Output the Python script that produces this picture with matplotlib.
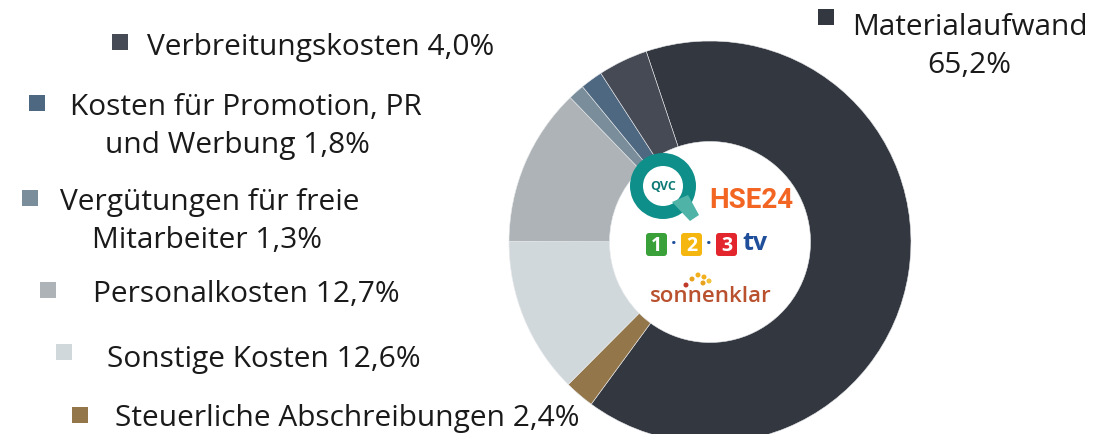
import matplotlib
matplotlib.use("Agg")
import matplotlib.pyplot as plt
from matplotlib.patches import Rectangle, Circle, Wedge, Polygon, FancyBboxPatch

plt.rcParams['font.family'] = ['Open Sans', 'DejaVu Sans']

# cost shares (clockwise from Materialaufwand)
labels = ['Materialaufwand', 'Steuerliche Abschreibungen', 'Sonstige Kosten',
          'Personalkosten', 'Vergütungen für freie Mitarbeiter',
          'Kosten für Promotion, PR und Werbung', 'Verbreitungskosten']
shares = [65.2, 2.4, 12.6, 12.7, 1.3, 1.8, 4.0]
colors = ['#333740', '#94764b', '#d1d8dc', '#adb3b6', '#7a8d9a', '#4e6882', '#464a55']

# legend entries: slice index, text lines, marker centre, text x per line, baseline per line
legend_items = [
    (6, ['Verbreitungskosten 4,0%'], (120, 43), [147], [55]),
    (5, ['Kosten für Promotion, PR', 'und Werbung 1,8%'], (37, 104), [70, 105], [115, 153]),
    (4, ['Vergütungen für freie', 'Mitarbeiter 1,3%'], (30, 199), [60, 92], [210, 248]),
    (3, ['Personalkosten 12,7%'], (48, 291), [93], [302]),
    (2, ['Sonstige Kosten 12,6%'], (64, 353), [107], [367]),
    (1, ['Steuerliche Abschreibungen 2,4%'], (80, 416), [115], [426]),
    (0, ['Materialaufwand', '65,2%'], (826, 18), [970, 969], [35, 73]),
]

W, H = 1116, 435
fig = plt.figure(figsize=(W / 100, H / 100), dpi=100)

# donut
cx, cy, r = 710, 243, 201
ax = fig.add_axes([(cx - r) / W, (H - cy - r) / H, 2 * r / W, 2 * r / H])
ax.pie(shares, colors=colors, startangle=108.5, counterclock=False, radius=1,
       wedgeprops=dict(width=0.5, edgecolor='#e8eaec', linewidth=0.4))
ax.set_xlim(-1, 1)
ax.set_ylim(-1, 1)
ax.set_aspect('equal')
ax.axis('off')

# overlay in pixel coordinates
ov = fig.add_axes([0, 0, 1, 1])
ov.set_xlim(0, W)
ov.set_ylim(H, 0)
ov.axis('off')

fs = 21.5
for idx, lines, (mx, my), txs, tys in legend_items:
    ov.add_patch(Rectangle((mx - 8, my - 8), 16, 16, color=colors[idx], lw=0))
    ha = 'center' if idx == 0 else 'left'
    for line, x, y in zip(lines, txs, tys):
        ov.text(x, y, line, fontsize=fs, ha=ha, va='baseline', color='#1a1a1a')

# logos in the centre (simple shapes and text)
ov.add_patch(Wedge((663, 187), 33, 0, 360, width=13, color='#0f8f8a', lw=0))
ov.add_patch(Polygon([[672, 203], [688, 196], [699, 216], [690, 222]], closed=True,
                     color='#4fb3a8', lw=0))
ov.text(663, 187, 'QVC', fontsize=9, ha='center', va='center', color='#0f7a76',
        fontweight='bold')
ov.text(751, 201, 'HSE24', fontsize=20, ha='center', va='center', color='#f26522',
        fontweight='bold', family='Roboto')
for x0, col, num in [(646, '#3aa13a', '1'), (681, '#f5b70f', '2'), (716, '#e3262d', '3')]:
    ov.add_patch(FancyBboxPatch((x0, 234), 21, 23, boxstyle='round,pad=0,rounding_size=3',
                                color=col, lw=0))
    ov.text(x0 + 10.5, 246, num, fontsize=14, ha='center', va='center', color='white',
            fontweight='bold')
for xd in (674, 709):
    ov.text(xd, 244, '·', fontsize=14, ha='center', va='center', color='#1f4e9a',
            fontweight='bold')
ov.text(755, 244, 'tv', fontsize=18, ha='center', va='center', color='#1f4e9a',
        fontweight='bold')
ov.text(711, 297, 'sonnenklar', fontsize=16, ha='center', va='center', color='#b9512f',
        fontweight='semibold')
for dx, dy, col in [(-14, 4, '#c0392b'), (-8, -2, '#e8a21e'), (-2, -6, '#f2b01e'),
                    (4, -4, '#f2b01e'), (9, 0, '#f2c23a'), (3, 2, '#e8a21e')]:
    ov.add_patch(Circle((700 + dx, 282 + dy), 2.5, color=col, lw=0))

fig.savefig('out.png', dpi=100)
